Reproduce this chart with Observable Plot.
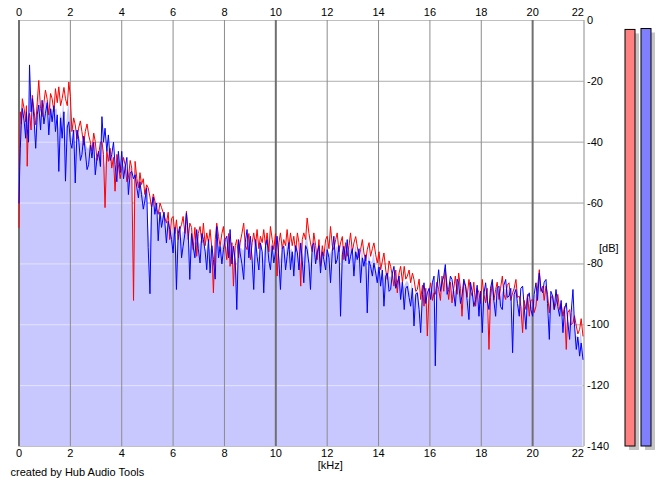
<!DOCTYPE html>
<html>
<head>
<meta charset="utf-8">
<script src="https://cdn.jsdelivr.net/npm/d3@7"></script>
<script src="https://cdn.jsdelivr.net/npm/@observablehq/plot@0.6"></script>
<style>
  html, body { margin: 0; padding: 0; background: #ffffff; }
  #wrap { position: relative; width: 665px; height: 487px; overflow: hidden; background: #ffffff; }
  #main { position: absolute; left: 0; top: 0; }
  #meter { position: absolute; left: 600px; top: 0; }
</style>
</head>
<body>
<div id="wrap"><div id="main"></div><div id="meter"></div></div>
<script>
// Frequency bins (kHz)
const kHz = [0.00,0.03,0.05,0.09,0.13,0.20,0.26,0.29,0.32,0.37,0.41,0.47,0.52,0.59,0.65,0.71,0.77,0.84,0.90,0.97,1.03,1.10,1.16,1.23,1.29,1.36,1.42,1.49,1.55,1.62,1.68,1.75,1.81,1.88,1.94,2.00,
2.06,2.13,2.19,2.26,2.32,2.39,2.45,2.52,2.58,2.65,2.71,2.78,2.84,2.91,2.97,3.04,3.10,3.17,3.23,3.29,3.35,3.42,3.48,3.55,3.61,3.68,3.74,3.81,3.87,3.94,4.00,
4.07,4.13,4.20,4.26,4.33,4.39,4.46,4.52,4.59,4.65,4.71,4.77,4.84,4.90,4.97,5.03,5.10,5.16,5.23,5.29,5.36,5.42,5.49,5.55,5.65,5.74,5.81,5.87,5.94,6.00,
6.07,6.13,6.20,6.26,6.33,6.39,6.46,6.52,6.59,6.65,6.72,6.78,6.85,6.92,6.98,7.05,7.12,7.18,7.25,7.31,7.38,7.44,7.51,7.57,7.64,7.70,7.77,7.83,7.90,7.96,8.03,
8.09,8.16,8.22,8.29,8.35,8.42,8.48,8.55,8.61,8.68,8.75,8.81,8.88,8.95,9.01,9.08,9.14,9.21,9.27,9.34,9.40,9.47,9.53,9.60,9.66,9.73,9.79,9.86,9.92,9.99,
10.05,10.12,10.18,10.25,10.31,10.38,10.44,10.51,10.57,10.64,10.70,10.77,10.84,10.90,10.97,11.03,11.09,11.16,11.22,11.29,11.35,11.42,11.48,11.55,11.61,11.68,11.74,11.81,11.87,11.94,
12.00,12.07,12.13,12.20,12.26,12.33,12.39,12.46,12.52,12.59,12.65,12.72,12.78,12.85,12.91,12.98,13.04,13.11,13.17,13.24,13.30,13.37,13.43,13.50,13.56,13.63,13.69,13.76,13.82,13.89,13.95,14.02,
14.08,14.15,14.21,14.28,14.34,14.41,14.47,14.54,14.60,14.67,14.73,14.80,14.86,14.93,15.00,15.06,15.12,15.19,15.25,15.32,15.38,15.45,15.51,15.58,15.64,15.71,15.77,15.84,15.90,15.97,
16.03,16.10,16.16,16.21,16.27,16.34,16.41,16.47,16.54,16.60,16.67,16.73,16.80,16.86,16.93,16.99,17.06,17.12,17.19,17.25,17.32,17.39,17.45,17.52,17.58,17.65,17.71,17.78,17.84,17.91,17.97,
18.04,18.10,18.17,18.23,18.30,18.36,18.43,18.49,18.56,18.62,18.69,18.75,18.82,18.88,18.95,19.01,19.08,19.15,19.22,19.28,19.35,19.41,19.48,19.54,19.61,19.67,19.74,19.80,19.87,19.93,
20.00,20.06,20.13,20.19,20.26,20.32,20.39,20.45,20.52,20.58,20.65,20.71,20.78,20.84,20.91,20.98,21.05,21.11,21.18,21.24,21.31,21.37,21.44,21.50,21.57,21.63,21.70,21.76,21.83,21.89,21.96];
// Left channel (red), dB
const left = [-68,-40,-30,-34,-25.7,-29,-33.3,-28,-47.9,-32,-30.5,-36,-24.6,-30,-34.3,-27,-19.7,-29,-31.6,-27,-22.9,-26,-31.1,-24,-25.7,-30,-22.4,-27,-21.8,-28,-25.7,-22,-25.7,-28,-20.2,-25,
-36.5,-32,-34.3,-39,-35.4,-33,-36.5,-41,-36.5,-34,-37.6,-40,-43,-37,-39.8,-46,-44.1,-40,-39.8,-44,-61.5,-43,-46.3,-42,-48.5,-45,-56.1,-44,-47.4,-52,-48.5,
-45,-47.4,-53,-51.7,-46,-48.5,-92,-46.3,-52,-55,-50,-53.9,-52,-57.2,-54,-55,-58,-61.5,-57,-59.3,-62,-63.7,-60,-61.5,-64,-66.6,-63,-72,-65,-64.4,
-70,-65.5,-72,-68.7,-67,-64.4,-70,-62.7,-72,-66.6,-68,-75.3,-68,-77.5,-70,-67.7,-73,-66.6,-74,-69.8,-73,-68.7,-75,-89.5,-72,-66.6,-71,-74.2,-70,-67.7,-74,
-78.6,-70,-80.8,-73,-87.3,-74,-72,-78,-73.1,-70,-66.6,-74,-75.3,-70,-78.6,-73,-69.8,-74,-68.7,-75,-70.9,-73,-68.7,-74,-69.8,-76,-67.7,-72,-75.3,-70,
-84,-73,-69.8,-75,-72,-74,-68.7,-75,-69.8,-74,-70.9,-76,-69.8,-73,-87.3,-72,-69.8,-72,-64.9,-70,-73.1,-76,-69.8,-74,-78.6,-72,-80.8,-74,-77.5,-72,
-70.9,-75,-67.7,-74,-75.3,-72,-69.8,-76,-73.1,-71,-78.6,-73,-77.5,-74,-69.8,-76,-73.1,-71,-74.2,-78,-75.3,-72,-76.4,-79,-75.3,-73,-77.5,-75,-73.1,-77,-79.7,-76,
-81.9,-79,-76.4,-82,-85.1,-79,-80.8,-84,-87.3,-82,-89.5,-83,-80.8,-86,-80.8,-85,-84,-82,-86.2,-83,-85.1,-89,-88.4,-85,-91.7,-87,-93.9,-88,-103.7,-89,
-86.2,-92,-89.5,-90,-86,-88.4,-92,-84,-89,-81.9,-87,-91.7,-86,-92.8,-88,-84,-90,-83,-88,-97.2,-86,-87.3,-91,-85.1,-89,-90.6,-86,-93.9,-88,-89.5,-93,
-85.1,-90,-92.8,-88,-108.1,-91,-86.2,-92,-88.4,-86,-91.7,-88,-84,-90,-91.7,-87,-86.2,-92,-89.5,-88,-85.1,-91,-90.6,-94,-102.6,-92,-95,-90,-97.2,-92,
-91.7,-96,-93.9,-88,-81.9,-89,-87.3,-92,-87.3,-90,-96.1,-91,-90.6,-95,-92.8,-90,-95,-93,-97.2,-94,-108.1,-96,-95,-100,-99.3,-97,-100.4,-103,-101.5,-98,-103.7];
// Right channel (blue), dB
const right = [-60,-48,-42,-34,-28.9,-33,-38.7,-30,-35.4,-40,-14.6,-30,-25.7,-33,-42,-31,-27.8,-36,-26.2,-34,-30.5,-27,-37.6,-29,-33.3,-28,-36.5,-31,-49.6,-32,-38.7,-30,-52.8,-35,-33.3,-40,
-42,-36,-53.4,-36,-38.7,-46,-44.1,-38,-43,-49,-47.4,-41,-45.2,-40,-50.7,-45,-43,-48,-31.6,-40,-35.4,-43,-37.6,-46,-44.1,-40,-47.4,-53,-43,-50,-43,
-52,-48.5,-45,-57.2,-50,-49.6,-52,-50.7,-55,-58.3,-53,-57.2,-62,-59.3,-55,-74.6,-89.8,-61.5,-58,-63.7,-60,-72.4,-63,-68,-63,-73.1,-66,-68.7,-72,-76.4,
-68,-88.4,-70,-67.7,-78,-74.2,-70,-63.3,-70,-85.1,-70,-74.2,-78,-68.7,-75,-79.7,-70,-72,-76,-81.9,-72,-83,-74,-78.6,-85,-67.7,-78,-74.2,-80,-75.3,-72,
-70.9,-78,-68.7,-80,-74.2,-79,-95,-72,-76.4,-80,-85.1,-73,-68.7,-78,-70.9,-79,-88.4,-72,-77.5,-82,-73.1,-76,-89.5,-74,-72,-79,-81.9,-74,-79.7,-76,
-70.9,-79,-88.4,-75,-74.2,-82,-77.5,-73,-81.9,-76,-84,-74,-76.4,-82,-73.1,-79,-86.2,-74,-75.3,-80,-88.4,-74,-73.1,-80,-76.4,-74,-83,-76,-78.6,-82,
-75.3,-78,-86.2,-76,-70.9,-80,-78.6,-74,-97.2,-77,-74.2,-79,-72,-80,-77.5,-75,-84,-76,-78.6,-75,-86.2,-78,-80.8,-77,-96.1,-79,-80.8,-84,-79.7,-83,-86.2,-81,
-87.3,-82,-93.9,-84,-83,-89,-88.4,-83,-80.8,-88,-86.2,-84,-91.7,-86,-95,-88,-87.3,-91,-93.9,-88,-100.4,-90,-89.5,-95,-102.6,-90,-86.2,-93,-89.5,-88,
-91.7,-86,-84,-113.5,-88,-81.9,-89,-86.2,-84,-80.2,-90,-88.4,-84,-85.1,-90,-93.9,-85,-86.2,-93,-90.6,-85,-87.3,-92,-98.3,-86,-89.5,-94,-91.7,-87,-97.2,-89,
-102.6,-90,-86.2,-92,-95,-88,-85.1,-92,-97.2,-88,-87.3,-94,-95,-87,-85.1,-91,-90.6,-88,-109.2,-90,-88.4,-93,-97.2,-88,-87.3,-94,-101.5,-91,-89.5,-95,
-97.2,-90,-86.2,-92,-83,-88,-89.5,-86,-85.1,-93,-104.8,-89,-90.6,-95,-88.4,-94,-97.2,-92,-102.6,-95,-92.8,-99,-104.8,-96,-88.4,-100,-108.1,-104,-110.3,-106,-111.4];
// Axis ticks
const xTicks = [0,2,4,6,8,10,12,14,16,18,20,22];
const yTicks = [0,-20,-40,-60,-80,-100,-120,-140];
// Level meters
const meterChannels = ["left","right"];
const meterLevels = [-3.1,-2.8];

const FONT = "'Liberation Sans', Arial, sans-serif";
const rows = kHz.map((f, i) => ({f, left: left[i], right: right[i], mid: (left[i] + right[i]) / 2}));
const innerTicks = xTicks.slice(0, -1);
const lastTick = xTicks.slice(-1);

const main = Plot.plot({
  width: 665, height: 487,
  marginLeft: 18.5, marginRight: 81.5, marginTop: 20, marginBottom: 41,
  style: {fontFamily: FONT, fontSize: "11px", background: "#ffffff", color: "#000"},
  x: {domain: [0, 22]},
  y: {domain: [-140, 0]},
  marks: [
    Plot.ruleY(yTicks, {stroke: "#808080", strokeWidth: 1}),
    Plot.areaY(rows, {x: "f", y1: -140, y2: "mid", fill: "#c8c8ff"}),
    Plot.ruleY(yTicks, {stroke: "#ffffff", strokeOpacity: 0.5, strokeWidth: 1}),
    Plot.ruleX(xTicks, {stroke: d => d % 10 === 0 ? "#707070" : "#8c8c8c", strokeWidth: d => d % 10 === 0 ? 2 : 1}),
    Plot.lineY(rows, {x: "f", y: "left", stroke: "#ff0000", strokeWidth: 1}),
    Plot.lineY(rows, {x: "f", y: "right", stroke: "#0000ff", strokeWidth: 1}),
    Plot.axisX({anchor: "top", ticks: innerTicks, tickSize: 0, tickPadding: 5, tickFormat: d => String(d), label: null}),
    Plot.axisX({anchor: "top", ticks: lastTick, tickSize: 0, tickPadding: 5, textAnchor: "end", tickFormat: d => String(d), label: null}),
    Plot.axisX({anchor: "bottom", ticks: innerTicks, tickSize: 0, tickPadding: 3, tickFormat: d => String(d), label: null}),
    Plot.axisX({anchor: "bottom", ticks: lastTick, tickSize: 0, tickPadding: 3, textAnchor: "end", tickFormat: d => String(d), label: null}),
    Plot.axisY({anchor: "right", ticks: yTicks, tickSize: 0, tickPadding: 3, tickFormat: d => String(d), label: null}),
    Plot.text(["[kHz]"], {x: 12, frameAnchor: "bottom", dy: 22, dx: 3, textAnchor: "middle"}),
    Plot.text(["[dB]"], {y: -75, frameAnchor: "right", dx: 15, textAnchor: "start"}),
    Plot.text(["created by Hub Audio Tools"], {frameAnchor: "bottom-left", dx: -8.5, dy: 29, textAnchor: "start"})
  ]
});
document.getElementById("main").appendChild(main);

const meterRows = meterChannels.map((c, i) => ({c, v: meterLevels[i]}));
const meter = Plot.plot({
  width: 65, height: 487,
  marginLeft: 0, marginRight: 0, marginTop: 20, marginBottom: 41,
  style: {background: "transparent"},
  x: {domain: meterChannels, range: [25, 51], padding: 0.375, paddingOuter: 0, axis: null},
  y: {domain: [-140, 0], axis: null},
  color: {domain: meterChannels, range: ["#ff8080", "#8080ff"]},
  marks: [
    Plot.barY(meterRows, {x: "c", y1: -140, y2: "v", fill: "#c4c4c4", dx: 4, dy: 4}),
    Plot.barY(meterRows, {x: "c", y1: -140, y2: "v", fill: "c", stroke: "#000", strokeWidth: 1})
  ]
});
document.getElementById("meter").appendChild(meter);
</script>
</body>
</html>
